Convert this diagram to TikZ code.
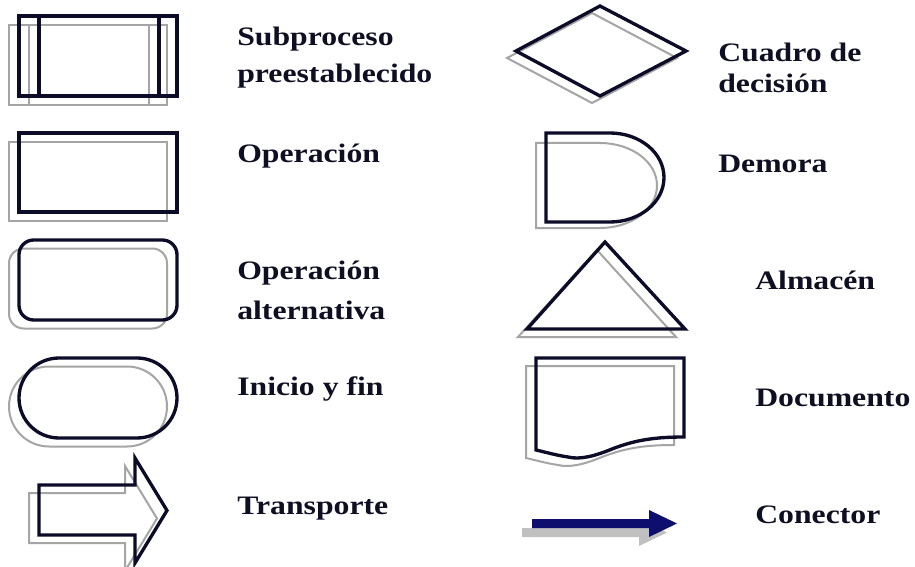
\documentclass[tikz,border=0pt]{standalone}
\usepackage{fontspec}
\setmainfont{Liberation Serif}
\usepackage{graphicx}
\definecolor{ink}{RGB}{12,12,40}
\definecolor{shade}{RGB}{165,165,165}
\definecolor{navy}{RGB}{14,14,110}
\definecolor{txt}{RGB}{15,15,35}
\newcommand{\lbltext}[1]{\scalebox{1.19}[1]{#1}}
\tikzset{
  outline/.style={draw=ink, line width=2.5pt, line join=miter},
  shadowline/.style={draw=shade, line width=1.5pt},
  lbl/.style={anchor=base west, inner sep=0pt, font=\fontsize{20}{24}\selectfont\bfseries, text=txt},
}
\begin{document}
\begin{tikzpicture}[x=0.75pt,y=-0.75pt]
\useasboundingbox[fill=white] (0,0) rectangle (915,567);

% ---------- left column ----------
% Subproceso preestablecido
\begin{scope}[shift={(-10,9)}]
  \draw[shadowline] (19,16) rectangle (177,96);
  \draw[shadowline] (39,16) -- (39,96) (159,16) -- (159,96);
\end{scope}
\draw[outline] (19,16) rectangle (177,96);
\draw[outline] (39,16) -- (39,96) (159,16) -- (159,96);

% Operacion
\draw[shadowline, shift={(-10,9)}] (19,133) rectangle (177,212);
\draw[outline] (19,133) rectangle (177,212);

% Operacion alternativa
\draw[shadowline, shift={(-10,8.5)}, rounded corners=11pt] (19,240) rectangle (177,320);
\draw[outline, rounded corners=11pt] (19,240) rectangle (177,320);

% Inicio y fin
\draw[shadowline, shift={(-10,8.5)}, rounded corners=30pt] (19,358) rectangle (177,438);
\draw[outline, rounded corners=30pt] (19,358) rectangle (177,438);

% Transporte
\draw[shadowline, shift={(-10,8)}] (39,485) -- (135,485) -- (135,458) -- (167,510.5) -- (135,563) -- (135,535) -- (39,535) -- cycle;
\draw[outline] (39,485) -- (135,485) -- (135,458) -- (167,510.5) -- (135,563) -- (135,535) -- (39,535) -- cycle;

% ---------- right column ----------
% Cuadro de decision
\draw[shadowline] (507,58) -- (592,13) -- (677,58) -- (592,103) -- cycle;
\draw[outline] (516,51) -- (600,6) -- (686,51) -- (600,96) -- cycle;

% Demora
\draw[shadowline] (536,143) -- (600,143) .. controls (631.5,143) and (657,162) .. (657,185.5)
  .. controls (657,209) and (631.5,228) .. (600,228) -- (536,228) -- cycle;
\draw[outline] (546,133) -- (610,133) .. controls (639.8,133) and (664,152.9) .. (664,177.5)
  .. controls (664,202.1) and (639.8,222) .. (610,222) -- (546,222) -- cycle;

% Almacen
\draw[shadowline] (597,250) -- (518,337) -- (676,337) -- cycle;
\draw[outline] (605,242) -- (527,329) -- (685,329) -- cycle;

% Documento
\draw[shadowline, shift={(-10,8)}] (536,358) -- (684,358) -- (684,437)
  .. controls (655,437) and (635,440) .. (612,449)
  .. controls (595,456) and (580,460) .. (568,457)
  .. controls (555,455) and (545,452) .. (536,450) -- cycle;
\draw[outline] (536,358) -- (684,358) -- (684,437)
  .. controls (655,437) and (635,440) .. (612,449)
  .. controls (595,456) and (580,460) .. (568,457)
  .. controls (555,455) and (545,452) .. (536,450) -- cycle;

% Conector
\fill[shade!70, shift={(-10,9)}] (532,519) -- (649,519) -- (649,510) -- (677,523.5) -- (649,537) -- (649,528) -- (532,528) -- cycle;
\fill[navy] (532,519) -- (649,519) -- (649,510) -- (677,523.5) -- (649,537) -- (649,528) -- (532,528) -- cycle;

% ---------- labels ----------
\node[lbl] (l1a) at (237,46) {\lbltext{Subproceso}};
\node[lbl] (l1b) at (237,82.5) {\lbltext{preestablecido}};
\node[lbl] (l2) at (237,162) {\lbltext{Operación}};
\node[lbl] (l3a) at (237,279) {\lbltext{Operación}};
\node[lbl] (l3b) at (237,319) {\lbltext{alternativa}};
\node[lbl] (l4) at (237,395) {\lbltext{Inicio y fin}};
\node[lbl] (l5) at (237,514) {\lbltext{Transporte}};
\node[lbl] (r1a) at (718,62) {\lbltext{Cuadro de}};
\node[lbl] (r1b) at (718,93) {\lbltext{decisión}};
\node[lbl] (r2) at (718,172) {\lbltext{Demora}};
\node[lbl] (r3) at (755,289) {\lbltext{Almacén}};
\node[lbl] (r4) at (755,406) {\lbltext{Documento}};
\node[lbl] (r5) at (755,523) {\lbltext{Conector}};
\end{tikzpicture}
\end{document}
